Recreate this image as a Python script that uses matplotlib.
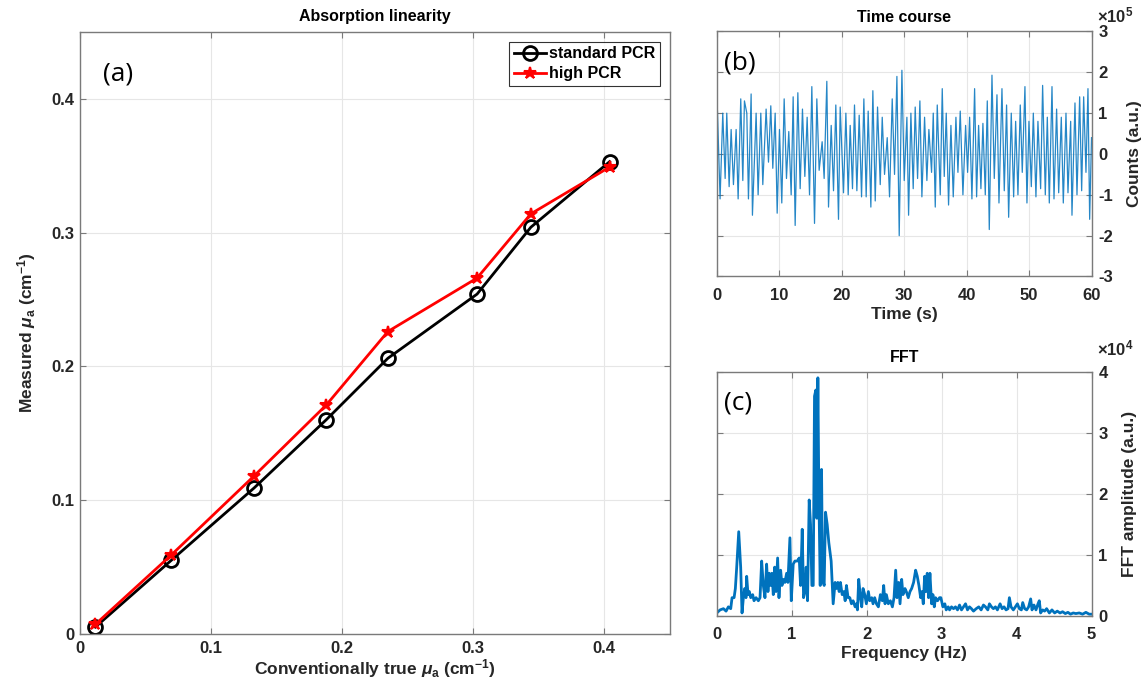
import numpy as np
import matplotlib
matplotlib.use("Agg")
import matplotlib.pyplot as plt

plt.rcParams['font.family'] = ['Liberation Sans', 'DejaVu Sans']
plt.rcParams['font.weight'] = 'bold'
plt.rcParams['axes.unicode_minus'] = False
plt.rcParams['mathtext.fontset'] = 'custom'
plt.rcParams['mathtext.it'] = 'Liberation Sans:italic:bold'
plt.rcParams['mathtext.rm'] = 'Liberation Sans:bold'
plt.rcParams['mathtext.bf'] = 'Liberation Sans:bold'

# (a) absorption linearity
true_mua = [0.012, 0.070, 0.133, 0.188, 0.235, 0.303, 0.344, 0.404]
std_pcr = [0.005, 0.055, 0.109, 0.160, 0.206, 0.254, 0.304, 0.353]
high_pcr = [0.007, 0.059, 0.118, 0.171, 0.226, 0.266, 0.314, 0.349]

# (b) time course, peaks and troughs (x1e5 counts)
peak_t = [0.11, 0.96, 1.60, 2.30, 3.10, 3.84, 4.43, 4.81, 5.50, 6.30, 7.05, 7.90,
          8.65, 9.35, 10.04, 10.79, 11.53, 12.23, 12.98, 13.72, 14.47, 15.22, 16.02,
          16.87, 17.62, 18.32, 19.06, 19.76, 20.67, 21.36, 22.05, 22.80, 23.55, 24.24,
          24.99, 25.74, 26.49, 27.29, 28.09, 28.84, 29.64, 30.44, 31.08, 31.77, 32.52,
          33.27, 33.96, 34.66, 35.30, 36.10, 36.74, 37.49, 38.29, 38.98, 39.84, 40.48,
          41.28, 41.92, 42.61, 43.31, 44.06, 44.86, 45.66, 46.40, 47.15, 47.85, 48.59,
          49.34, 49.98, 50.68, 51.42, 52.17, 52.92, 53.67, 54.41, 55.16, 55.91, 56.66,
          57.35, 58.10, 58.74, 59.43, 60.0]
peak_v = [1.05, 1.0, 1.0, 0.6, 0.6, 1.35, 1.3, 1.0, 1.47, 1.0, 1.0, 1.1,
          1.18, 1.0, 0.6, 1.35, 0.55, 1.4, 1.5, 1.1, 0.9, 1.65, 1.35,
          0.3, 1.78, 0.7, 1.2, 1.15, 1.0, 0.7, 1.2, 0.95, 1.35, 1.05,
          1.55, 1.15, 0.9, 0.4, 1.35, 1.9, 2.05, 0.9, 1.0, 1.15, 1.3,
          0.9, 0.6, 1.0, 1.2, 1.6, 1.0, 0.7, 0.9, 1.05, 0.7, 0.9,
          1.6, 0.7, 0.75, 1.3, 1.93, 1.45, 1.6, 1.2, 1.0, 0.8, 1.2,
          1.65, 0.8, 1.0, 0.8, 1.68, 0.9, 1.65, 1.1, 0.9, 1.0, 0.8,
          1.25, 1.4, 1.4, 1.6, 0.4]
trough_t = [0.53, 1.34, 1.98, 2.67, 3.42, 4.17, 5.07, 5.71, 6.62, 7.37, 8.28, 8.97,
            9.67, 10.41, 11.16, 11.91, 12.55, 13.35, 14.10, 14.85, 15.65, 16.39, 17.19,
            17.89, 18.69, 19.49, 20.29, 21.04, 21.73, 22.43, 23.18, 23.92, 24.67, 25.37,
            26.17, 26.86, 27.66, 28.46, 29.21, 30.01, 30.71, 31.45, 32.15, 32.84, 33.64,
            34.39, 34.98, 35.78, 36.42, 37.11, 37.86, 38.61, 39.41, 40.16, 40.85, 41.60,
            42.29, 42.99, 43.63, 44.43, 45.18, 46.03, 46.73, 47.53, 48.22, 48.91, 49.66,
            50.36, 51.10, 51.85, 52.60, 53.24, 53.99, 54.74, 55.48, 56.23, 56.87, 57.67,
            58.42, 59.11, 59.70]
trough_v = [-1.1, -0.6, -0.8, -0.75, -1.1, -0.65, -1.1, -1.5, -1.0, -0.75, -0.2, -0.35,
            -1.45, -1.2, -0.6, -1.0, -1.75, -0.85, -0.55, -1.0, -1.7, -0.4, -0.6,
            -1.3, -0.9, -1.6, -0.95, -1.0, -0.85, -0.9, -1.05, -1.05, -1.3, -1.15,
            -0.75, -0.5, -1.05, -0.5, -2.0, -0.65, -1.5, -0.85, -0.6, -1.05, -0.65,
            -0.45, -1.3, -1.0, -0.55, -1.25, -1.05, -0.45, -1.0, -0.45, -1.1, -1.05,
            -0.85, -1.0, -1.85, -0.6, -1.2, -0.9, -1.55, -1.05, -1.0, -0.45, -1.2,
            -0.8, -1.05, -0.85, -1.0, -1.2, -1.1, -0.95, -1.2, -0.95, -1.5, -1.0,
            -0.9, -0.45, -1.6]

# (c) FFT amplitude (x1e4)
fft_f = [0.000, 0.044, 0.089, 0.124, 0.155, 0.186, 0.204, 0.231, 0.248, 0.266, 0.293,
         0.319, 0.337, 0.355, 0.373, 0.390, 0.399, 0.417, 0.435, 0.453, 0.479, 0.497,
         0.524, 0.555, 0.577, 0.599, 0.621, 0.643, 0.665, 0.683, 0.701, 0.719, 0.736,
         0.754, 0.772, 0.790, 0.812, 0.830, 0.852, 0.870, 0.887, 0.909, 0.932, 0.949,
         0.976, 0.994, 1.020, 1.043, 1.074, 1.100, 1.118, 1.140, 1.158, 1.176, 1.193,
         1.211, 1.233, 1.251, 1.269, 1.287, 1.304, 1.322, 1.335, 1.349, 1.362, 1.380,
         1.398, 1.411, 1.433, 1.451, 1.473, 1.495, 1.526, 1.553, 1.579, 1.597, 1.615,
         1.633, 1.650, 1.673, 1.695, 1.713, 1.730, 1.752, 1.775, 1.797, 1.819, 1.846,
         1.863, 1.877, 1.894, 1.917, 1.934, 1.952, 1.974, 1.996, 2.023, 2.041, 2.067,
         2.085, 2.107, 2.130, 2.156, 2.183, 2.209, 2.227, 2.245, 2.263, 2.289, 2.316,
         2.343, 2.365, 2.387, 2.405, 2.427, 2.445, 2.467, 2.484, 2.511, 2.529, 2.555,
         2.578, 2.600, 2.626, 2.653, 2.675, 2.697, 2.720, 2.737, 2.755, 2.773, 2.791,
         2.808, 2.826, 2.844, 2.866, 2.884, 2.902, 2.919, 2.946, 2.972, 2.990, 3.017,
         3.043, 3.061, 3.088, 3.106, 3.132, 3.159, 3.185, 3.212, 3.239, 3.265, 3.292,
         3.319, 3.345, 3.372, 3.398, 3.425, 3.461, 3.496, 3.527, 3.558, 3.585, 3.616,
         3.638, 3.665, 3.691, 3.718, 3.744, 3.780, 3.807, 3.833, 3.860, 3.886, 3.904,
         3.926, 3.957, 3.984, 4.011, 4.037, 4.064, 4.082, 4.108, 4.135, 4.161, 4.188,
         4.206, 4.232, 4.259, 4.286, 4.303, 4.321, 4.348, 4.374, 4.401, 4.437, 4.472,
         4.508, 4.543, 4.579, 4.614, 4.650, 4.685, 4.720, 4.756, 4.791, 4.836, 4.880,
         4.925, 4.969, 5.000]
fft_a = [0.05, 0.1, 0.12, 0.08, 0.15, 0.12, 0.3, 0.3, 0.45, 0.8, 1.38,
         0.8, 0.05, 0.3, 0.45, 0.3, 0.65, 0.35, 0.4, 0.3, 0.35, 0.25,
         0.3, 0.25, 0.3, 0.9, 0.5, 0.3, 0.85, 0.4, 0.7, 0.5, 0.7,
         0.35, 0.8, 0.4, 0.95, 0.3, 0.75, 0.5, 0.6, 0.55, 0.7, 0.55,
         1.28, 0.25, 0.85, 0.9, 0.9, 0.95, 0.5, 1.42, 0.3, 0.4, 0.8,
         0.25, 1.9, 1.5, 0.5, 0.5, 3.6, 3.7, 1.6, 3.9, 2.0, 0.5,
         2.4, 0.6, 0.5, 1.7, 1.5, 1.2, 0.9, 0.2, 0.55, 0.45, 0.55,
         0.4, 0.55, 0.35, 0.4, 0.25, 0.5, 0.3, 0.3, 0.2, 0.25, 0.15,
         0.2, 0.1, 0.6, 0.3, 0.15, 0.45, 0.35, 0.2, 0.4, 0.25, 0.3,
         0.2, 0.3, 0.2, 0.15, 0.35, 0.25, 0.5, 0.2, 0.35, 0.2, 0.25,
         0.15, 0.3, 0.75, 0.3, 0.55, 0.2, 0.6, 0.35, 0.45, 0.4, 0.3,
         0.4, 0.45, 0.55, 0.75, 0.65, 0.5, 0.3, 0.4, 0.2, 0.65, 0.4,
         0.7, 0.3, 0.7, 0.2, 0.35, 0.15, 0.3, 0.25, 0.3, 0.3, 0.15,
         0.2, 0.1, 0.15, 0.1, 0.15, 0.12, 0.15, 0.1, 0.18, 0.1, 0.15,
         0.2, 0.1, 0.15, 0.12, 0.08, 0.12, 0.15, 0.1, 0.18, 0.15, 0.1,
         0.2, 0.15, 0.12, 0.15, 0.1, 0.2, 0.12, 0.15, 0.1, 0.12, 0.3,
         0.15, 0.1, 0.15, 0.2, 0.12, 0.1, 0.22, 0.12, 0.1, 0.15, 0.28,
         0.1, 0.18, 0.1, 0.2, 0.25, 0.05, 0.1, 0.08, 0.12, 0.05, 0.1,
         0.05, 0.08, 0.05, 0.07, 0.04, 0.06, 0.03, 0.05, 0.04, 0.05, 0.03,
         0.06, 0.03, 0.03]

grid_c = '#e6e6e6'
spine_c = '#7a7a7a'
txt_c = '#262626'
blue = '#0072BD'


def style(ax, xpad=8, right=False):
    ax.grid(True, color=grid_c, linewidth=0.8)
    ax.set_axisbelow(True)
    for s in ax.spines.values():
        s.set_color(spine_c)
        s.set_linewidth(1.0)
    ax.tick_params(direction='in', length=4, colors=spine_c, labelcolor=txt_c,
                   labelsize=12, top=True, right=True, left=True, bottom=True)
    ax.tick_params(axis='x', pad=xpad)
    if right:
        ax.yaxis.tick_right()
        ax.yaxis.set_label_position('right')
        ax.tick_params(axis='y', left=True, pad=5)


fig = plt.figure(figsize=(11.45, 6.8), dpi=100)

# (a)
ax1 = fig.add_axes([0.0695, 0.068, 0.5156, 0.885])
ax1.plot(true_mua, std_pcr, '-o', color='black', lw=2, ms=10, mfc='none', mew=2,
         label='standard PCR')
ax1.plot(true_mua, high_pcr, '-*', color='red', lw=2, ms=9, mew=1.5,
         label='high PCR')
ax1.set_xlim(0, 0.45)
ax1.set_ylim(0, 0.45)
ax1.set_xticks([0, 0.1, 0.2, 0.3, 0.4])
ax1.set_xticklabels(['0', '0.1', '0.2', '0.3', '0.4'])
ax1.set_yticks([0, 0.1, 0.2, 0.3, 0.4])
ax1.set_yticklabels(['0', '0.1', '0.2', '0.3', '0.4'])
style(ax1, xpad=5)
ax1.set_title('Absorption linearity', fontsize=11.5, fontweight='bold', color='black', pad=8)
ax1.set_xlabel(r'Conventionally true $\mu_{\mathrm{a}}$ (cm$^{\mathrm{-1}}$)',
               fontsize=12.5, fontweight='bold', color=txt_c, labelpad=1)
ax1.set_ylabel(r'Measured $\mu_{\mathrm{a}}$ (cm$^{\mathrm{-1}}$)',
               fontsize=12.5, fontweight='bold', color=txt_c, labelpad=10)
leg = ax1.legend(loc='upper right', frameon=True, fancybox=False,
                 handlelength=2.0, borderpad=0.3, labelspacing=0.3, handletextpad=0.2,
                 borderaxespad=0.6, prop={'weight': 'bold', 'size': 11.5})
leg.get_frame().set_edgecolor('black')
leg.get_frame().set_linewidth(0.8)
ax1.text(0.04, 0.93, '(a)', transform=ax1.transAxes, fontsize=19, fontweight='normal',
         family='Open Sans', color='black', va='center')

# (b)
ax2 = fig.add_axes([0.626, 0.5934, 0.3273, 0.3603])
order = np.argsort(np.concatenate([peak_t, trough_t]))
tc_t = np.concatenate([peak_t, trough_t])[order]
tc_v = np.concatenate([peak_v, trough_v])[order]
ax2.plot(tc_t, tc_v, color=blue, lw=0.9, alpha=0.85)
ax2.set_xlim(0, 60)
ax2.set_ylim(-3, 3)
ax2.set_xticks(range(0, 61, 10))
ax2.set_yticks(range(-3, 4))
style(ax2, right=True)
ax2.set_title('Time course', fontsize=11.5, fontweight='bold', color='black', pad=7)
ax2.set_xlabel('Time (s)', fontsize=12.5, fontweight='bold', color=txt_c, labelpad=3)
ax2.set_ylabel('Counts (a.u.)', fontsize=12.5, fontweight='bold', color=txt_c, labelpad=10)
ax2.text(0.02, 0.87, '(b)', transform=ax2.transAxes, fontsize=19, fontweight='normal',
         family='Open Sans', color='black', va='center')
fig.text(0.958, 0.978, r'$\times\mathbf{10^{5}}$', fontsize=12, color=txt_c, va='center')

# (c)
ax3 = fig.add_axes([0.626, 0.0941, 0.3273, 0.3593])
ax3.plot(fft_f, fft_a, color=blue, lw=2)
ax3.set_xlim(0, 5)
ax3.set_ylim(0, 4)
ax3.set_xticks(range(0, 6))
ax3.set_yticks(range(0, 5))
style(ax3, right=True)
ax3.set_title('FFT', fontsize=11.5, fontweight='bold', color='black', pad=7)
ax3.set_xlabel('Frequency (Hz)', fontsize=12.5, fontweight='bold', color=txt_c, labelpad=3)
ax3.set_ylabel('FFT amplitude (a.u.)', fontsize=12.5, fontweight='bold', color=txt_c, labelpad=10)
ax3.text(0.02, 0.87, '(c)', transform=ax3.transAxes, fontsize=19, fontweight='normal',
         family='Open Sans', color='black', va='center')
fig.text(0.958, 0.488, r'$\times\mathbf{10^{4}}$', fontsize=12, color=txt_c, va='center')

fig.savefig('out.png', dpi=100)
